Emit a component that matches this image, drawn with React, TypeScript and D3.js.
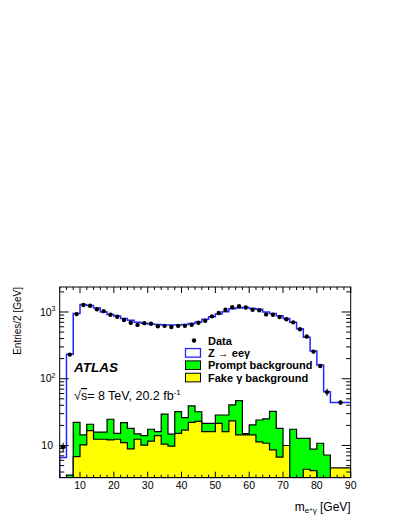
import * as d3 from 'd3';

// bin edges [GeV]; the last bin is wider
const binEdges = [4, 6, 8, 10, 12, 14, 16, 18, 20, 22, 24, 26, 28, 30, 32, 34, 36, 38, 40, 42, 44, 46, 48, 50, 52, 54, 56, 58, 60, 62, 64, 66, 68, 70, 72, 74, 76, 78, 80, 82, 84, 90];

// Z -> ee gamma signal MC (entries / 2 GeV)
const zeeg = [6.6, 232, 950, 1300, 1250, 1150, 1000, 920, 870, 800, 750, 700, 680, 660, 650, 640, 640, 640, 650, 670, 710, 777, 850, 930, 1010, 1120, 1150, 1170, 1130, 1100, 1000, 950, 880, 800, 700, 560, 420, 260, 160, 64, 44];

// data points
const dataVals = [9.5, 230, 930, 1270, 1240, 1100, 1030, 910, 850, 760, 690, 640, 680, 667, 610, 620, 595, 620, 620, 645, 690, 740, 860, 965, 1080, 1180, 1220, 1170, 1080, 1060, 920, 910, 840, 777, 700, 550, 430, 255, 155, 63, 44];
const dataErr = [1.5, 6, 0, 0, 0, 0, 0, 0, 0, 0, 0, 0, 0, 0, 0, 0, 0, 0, 0, 0, 0, 0, 0, 0, 0, 0, 0, 0, 0, 0, 0, 0, 0, 0, 0, 0, 0, 0, 6, 8, 3];

// fake gamma background (bottom of stack)
const fakeBkg = [1.5, 1.5, 6.8, 10.2, 16.7, 12.4, 12.4, 12.1, 12.4, 11.0, 8.9, 12.4, 10.1, 11.6, 14.0, 10.5, 9.8, 15.2, 17.0, 22.2, 23, 16.1, 16.1, 21.5, 16.1, 23.3, 14.4, 14.4, 14.4, 11.3, 10.8, 8.6, 6.7, 10, 1, 1, 4.4, 4.2, 1, 1, 4.6];
// prompt background (stacked on top of fake)
const promptBkg = [0.5, 2.1, 15.4, 4.2, 4.1, 3.5, 3.5, 12.6, 2.8, 11.0, 9.2, 2.5, 3.9, 5.9, 2.1, 18.9, 5.0, 16.9, 9.1, 16.9, 9, 5.4, 5.4, 7.1, 12.5, 17.2, 32.5, 0.6, 5.9, 12.8, 14.2, 23.9, 11.4, 0, 16.5, 11.8, 8.4, 4.6, 9.8, 6.2, 0];

const xTicks = [10, 20, 30, 40, 50, 60, 70, 80, 90];
const yDecades = [1, 2, 3];

const legendItems = ['Data', 'Z \u2192 ee\u03b3', 'Prompt background', 'Fake \u03b3 background'];

const font = "'Liberation Sans', Arial, Helvetica, sans-serif";

const frame = { left: 59.7, right: 350.7, top: 287, bottom: 477.7 };

export default function App() {
    const x = d3.scaleLinear().domain([4, 90]).range([frame.left, frame.right]);
    const y = d3.scaleLog().domain([3.29, 2368]).range([frame.bottom, frame.top]).clamp(true);

    const totalBkg = fakeBkg.map((v, i) => v + promptBkg[i]);

    const filledPath = (vals: number[]) => {
        let p = `M${x(binEdges[0])},${frame.bottom}`;
        vals.forEach((v, i) => {
            p += `L${x(binEdges[i])},${y(v)}L${x(binEdges[i + 1])},${y(v)}`;
        });
        p += `L${x(binEdges[binEdges.length - 1])},${frame.bottom}Z`;
        return p;
    };

    const linePath = (vals: number[]) => {
        let p = `M${x(binEdges[0])},${frame.bottom}`;
        vals.forEach((v, i) => {
            p += `L${x(binEdges[i])},${y(v)}L${x(binEdges[i + 1])},${y(v)}`;
        });
        return p;
    };

    // minor ticks
    const xMinor = d3.range(4, 91, 2);
    const yMinor: number[] = [];
    for (let d = 0; d <= 3; d++) {
        for (let m = 2; m < 10; m++) {
            const v = m * Math.pow(10, d);
            if (v >= 3.29 && v <= 2368) yMinor.push(v);
        }
    }

    const legendY = (i: number) => 340.5 + i * 12.35;

    return (
        <svg width={399} height={516} style={{ position: 'absolute', left: 0, top: 0, background: '#fff' }}>
            <defs>
                <clipPath id="plotclip">
                    <rect x={frame.left} y={frame.top} width={frame.right - frame.left} height={frame.bottom - frame.top} />
                </clipPath>
            </defs>
            <g clipPath="url(#plotclip)">
                <path d={filledPath(totalBkg)} fill="#00ff00" stroke="#000" strokeWidth={1.2} />
                <path d={filledPath(fakeBkg)} fill="#ffff00" stroke="#000" strokeWidth={1.2} />
                <path d={linePath(zeeg)} fill="none" stroke="#2626ff" strokeWidth={1.5} />
                {dataVals.map((v, i) => {
                    const cx = x((binEdges[i] + binEdges[i + 1]) / 2);
                    const e = dataErr[i];
                    return (
                        <g key={i}>
                            {e > 0 && <line x1={cx} x2={cx} y1={y(v - e)} y2={y(v + e)} stroke="#000" strokeWidth={1} />}
                            {i === 0 && <line x1={x(binEdges[0])} x2={x(binEdges[1])} y1={y(v)} y2={y(v)} stroke="#000" strokeWidth={1} />}
                            <circle cx={cx} cy={y(v)} r={2.2} fill="#000" />
                        </g>
                    );
                })}
            </g>

            {/* frame */}
            <rect x={frame.left} y={frame.top} width={frame.right - frame.left} height={frame.bottom - frame.top} fill="none" stroke="#000" strokeWidth={1} />

            {/* x ticks */}
            {xMinor.map(t => {
                const len = t % 10 === 0 ? 6 : 3;
                return (
                    <g key={'xm' + t}>
                        <line x1={x(t)} x2={x(t)} y1={frame.bottom} y2={frame.bottom - len} stroke="#000" />
                        <line x1={x(t)} x2={x(t)} y1={frame.top} y2={frame.top + len} stroke="#000" />
                    </g>
                );
            })}
            {xTicks.map(t => (
                <text key={'xl' + t} x={x(t)} y={489} fontSize={10.5} fontFamily={font} textAnchor="middle" fill="#000">{t}</text>
            ))}

            {/* y ticks */}
            {yMinor.map(v => (
                <g key={'ym' + v}>
                    <line x1={frame.left} x2={frame.left + 4.5} y1={y(v)} y2={y(v)} stroke="#000" />
                    <line x1={frame.right} x2={frame.right - 4.5} y1={y(v)} y2={y(v)} stroke="#000" />
                </g>
            ))}
            {yDecades.map(d => (
                <g key={'yd' + d}>
                    <line x1={frame.left} x2={frame.left + 9} y1={y(Math.pow(10, d))} y2={y(Math.pow(10, d))} stroke="#000" />
                    <line x1={frame.right} x2={frame.right - 9} y1={y(Math.pow(10, d))} y2={y(Math.pow(10, d))} stroke="#000" />
                    {d === 1 ? (
                        <text x={53} y={y(10) + 3.7} fontSize={10.5} fontFamily={font} textAnchor="end">10</text>
                    ) : (
                        <text x={55.5} y={y(Math.pow(10, d)) + 3.7} fontSize={10.5} fontFamily={font} textAnchor="end">
                            10<tspan fontSize={7} dy={-4.5}>{d}</tspan>
                        </text>
                    )}
                </g>
            ))}

            {/* axis titles */}
            <text transform={`translate(21,${frame.top}) rotate(-90)`} fontSize={10} fontFamily={font} textAnchor="end">Entries/2 [GeV]</text>
            <text x={frame.right} y={510.5} fontSize={12} fontFamily={font} textAnchor="end">
                m<tspan fontSize={8} dy={2.5}>e</tspan><tspan fontSize={6} dy={-2.5}>+</tspan><tspan fontSize={8} dy={2.5}>{'\u03b3'}</tspan><tspan dy={-2.5}> [GeV]</tspan>
            </text>

            {/* labels */}
            <text x={74} y={371.5} fontSize={13.5} fontWeight="bold" fontStyle="italic" fontFamily={font}>ATLAS</text>
            <text x={74} y={400} fontSize={12.5} fontFamily={font}>
                {'\u221a'}<tspan textDecoration="overline">s</tspan>{'= 8 TeV, 20.2 fb'}<tspan fontSize={8} dy={-5}>-1</tspan>
            </text>

            {/* legend */}
            <circle cx={194} cy={legendY(0)} r={2.2} fill="#000" />
            <rect x={185.5} y={legendY(1) - 4.3} width={15} height={8.6} fill="#fff" stroke="#2626ff" strokeWidth={1.3} />
            <rect x={185.5} y={legendY(2) - 4.3} width={15} height={8.6} fill="#00ff00" stroke="#000" strokeWidth={1} />
            <rect x={185.5} y={legendY(3) - 4.3} width={15} height={8.6} fill="#ffff00" stroke="#000" strokeWidth={1} />
            {legendItems.map((t, i) => (
                <text key={t} x={208} y={legendY(i) + 4} fontSize={11} fontWeight="bold" fontFamily={font}>{t}</text>
            ))}
        </svg>
    );
}
